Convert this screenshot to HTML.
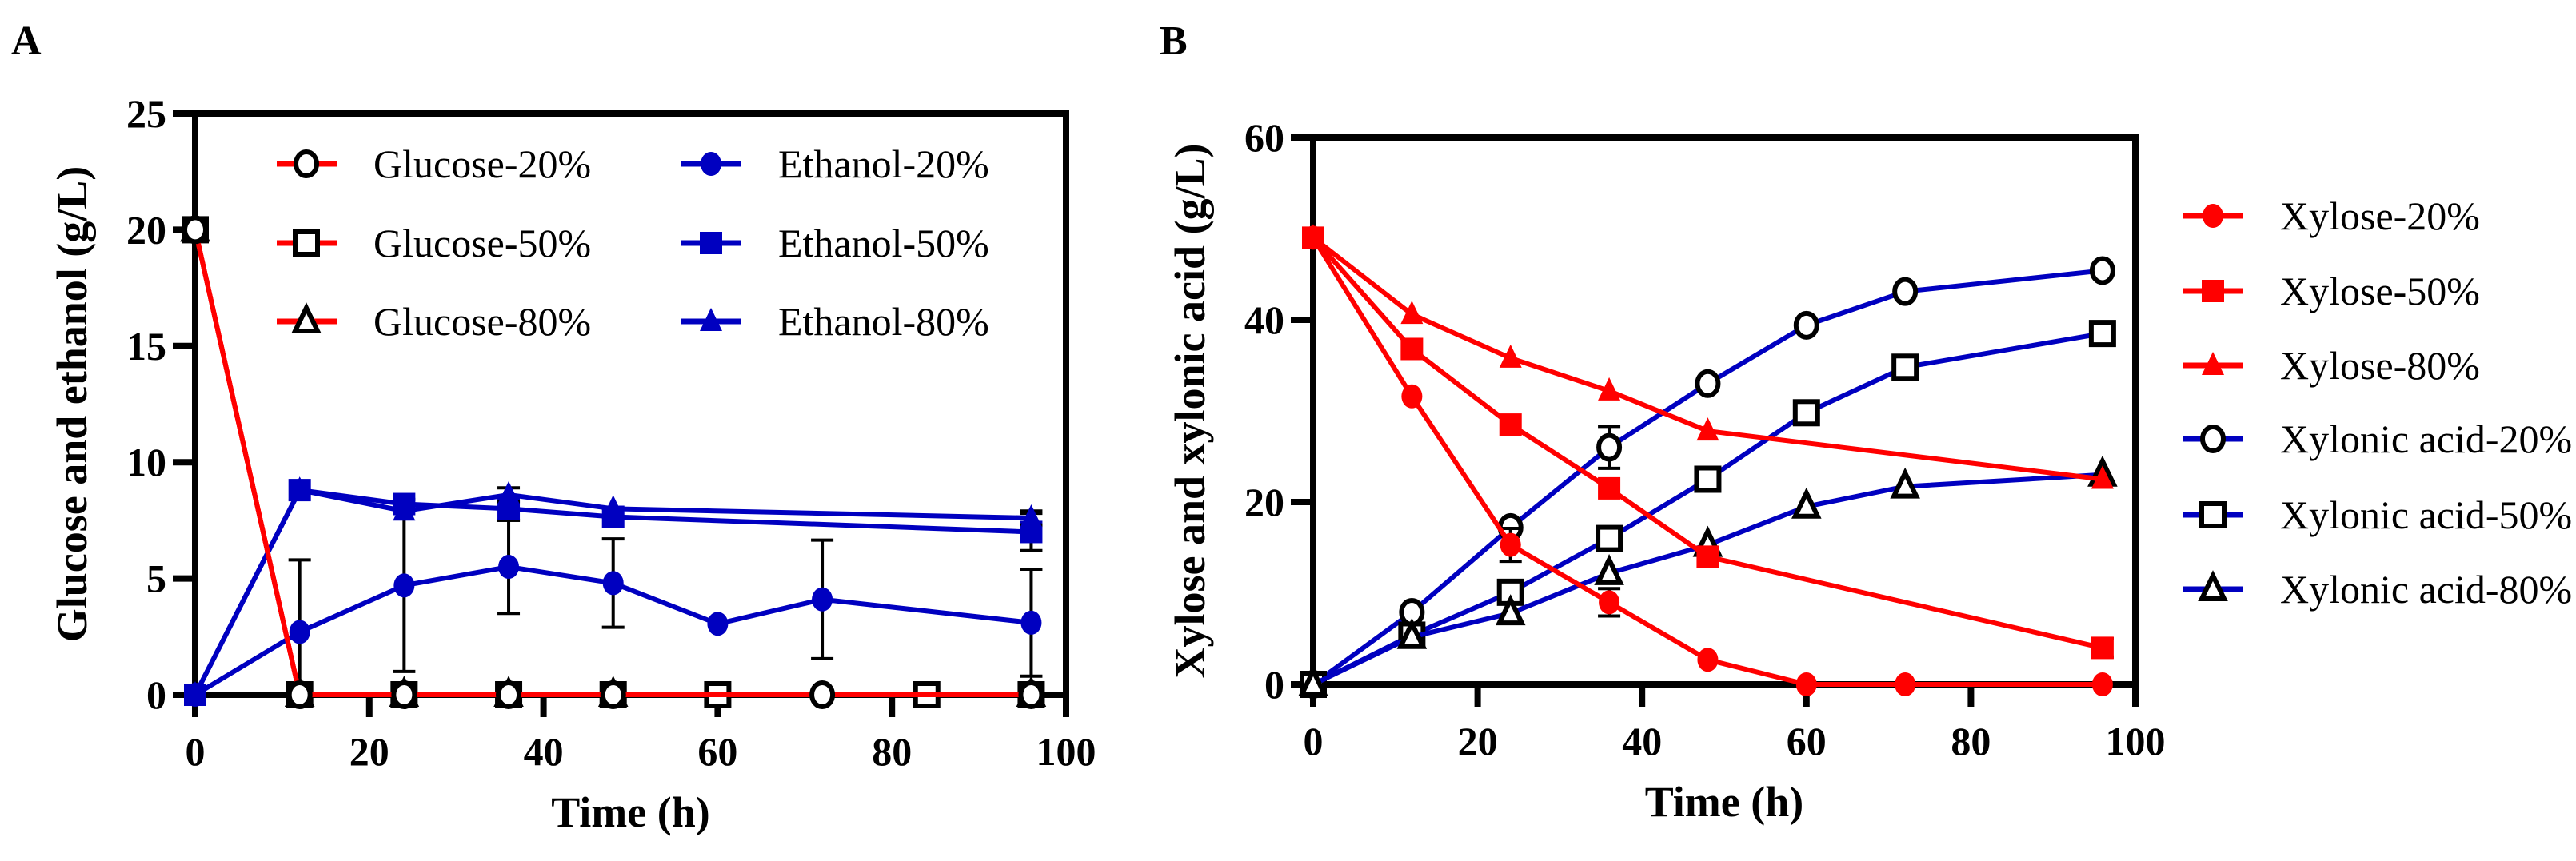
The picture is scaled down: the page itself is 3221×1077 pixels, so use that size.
<!DOCTYPE html>
<html><head><meta charset="utf-8">
<style>
html,body{margin:0;padding:0;background:#fff;}
svg{display:block;font-family:"Liberation Serif","Times New Roman",serif;}
svg text{font-family:"Liberation Serif","Times New Roman",serif;}
</style></head>
<body>
<svg id="fig" width="3221" height="1077" viewBox="0 0 3221 1077" xmlns="http://www.w3.org/2000/svg" font-family="Liberation Serif, serif">
<text x="14" y="68" font-size="52" font-weight="bold" font-family="Liberation Serif, serif">A</text>
<text x="1450" y="68" font-size="52" font-weight="bold" font-family="Liberation Serif, serif">B</text>
</svg>
<script>
// ---- Panel A data ----
const gluc20X = [0,12,24,36,48,72,96];
const gluc20Y = [20,0,0,0,0,0,0];
const gluc50X = [0,12,24,36,48,60,84,96];
const gluc50Y = [20,0,0,0,0,0,0,0];
const gluc80X = [0,12,24,36,48,96];
const gluc80Y = [20,0,0,0,0,0];
const eth20X = [0,12,24,36,48,60,72,96];
const eth20Y = [0,2.7,4.7,5.5,4.8,3.05,4.1,3.1];
const eth20Err = [0,3.1,3.7,2.0,1.9,0,2.55,2.3];
const eth50X = [0,12,24,36,48,96];
const eth50Y = [0,8.8,8.2,8.0,7.65,7.0];
const eth50Err = [0,0,0,0.5,0,0.8];
const eth80X = [0,12,24,36,48,96];
const eth80Y = [0,8.8,7.9,8.6,8.0,7.6];
const eth80Err = [0,0,0,0.3,0,0.3];
const ticksAx = [0,20,40,60,80,100];
const ticksAy = [0,5,10,15,20,25];
// ---- Panel B data ----
const xyl20X = [0,12,24,36,48,60,72,96];
const xyl20Y = [49,31.6,15.3,9.0,2.7,0,0,0];
const xyl20Err = [0,0,1.8,1.5,0,0,0,0];
const xyl50X = [0,12,24,36,48,96];
const xyl50Y = [49,36.8,28.5,21.5,14.0,4.0];
const xyl50Err = [0,0,0,0,0,1.0];
const xyl80X = [0,12,24,36,48,96];
const xyl80Y = [49,40.6,35.8,32.2,27.8,22.5];
const xa20X = [0,12,24,36,48,60,72,96];
const xa20Y = [0,7.9,17.2,26.0,33.0,39.4,43.1,45.4];
const xa20Err = [0,0,0,2.3,0,0,0,0];
const xa50X = [0,12,24,36,48,60,72,96];
const xa50Y = [0,5.4,10.1,16.0,22.5,29.8,34.8,38.5];
const xa80X = [0,12,24,36,48,60,72,96];
const xa80Y = [0,5.2,7.8,12.2,15.3,19.5,21.7,23.0];
const ticksBx = [0,20,40,60,80,100];
const ticksBy = [0,20,40,60];

const NS='http://www.w3.org/2000/svg';
const svg=document.getElementById('fig');
const RED='#ff0000', BLUE='#0000c0';
const FONT='Liberation Serif, serif';
function mk(tag,attrs,parent){const e=document.createElementNS(NS,tag);for(const k in attrs)e.setAttribute(k,attrs[k]);if(tag==='text')e.setAttribute('font-family',FONT);(parent||svg).appendChild(e);return e;}

function marker(g,shape,cx,cy,fill,stroke){
  let e;
  if(shape==='circle'){e=mk('ellipse',{cx:cx,cy:cy,rx:13,ry:15,fill:fill,stroke:stroke,'stroke-width':stroke==='none'?0:6},g);}
  else if(shape==='square'){e=mk('rect',{x:cx-14,y:cy-14,width:28,height:28,fill:fill,stroke:stroke,'stroke-width':stroke==='none'?0:6},g);}
  else {e=mk('polygon',{points:`${cx},${cy-17} ${cx+14},${cy+12} ${cx-14},${cy+12}`,fill:fill,stroke:stroke,'stroke-width':stroke==='none'?0:6},g);}
  return e;
}

function axes(p,tx,ty,yMax,title,name){
  const g=mk('g',{});
  
  
  const sx=v=>p.x0+(v/100)*(p.x1-p.x0);
  const sy=v=>p.y0-(v/yMax)*(p.y0-p.y1);
  const frame=mk('path',{d:`M${p.x0},${p.y0} V${p.y1} H${p.x1} V${p.y0} Z`,fill:'none',stroke:'#000','stroke-width':8},g);
  
  
  tx.forEach(v=>{
    const t=mk('line',{x1:sx(v),x2:sx(v),y1:p.y0,y2:p.y0+28,stroke:'#000','stroke-width':8},g);
    
    
    const l=mk('text',{x:sx(v),y:p.y0+88,'font-size':50,'font-weight':'bold','text-anchor':'middle'},g);
    l.textContent=v;
    
    
  });
  ty.forEach(v=>{
    const t=mk('line',{x1:p.x0-28,x2:p.x0,y1:sy(v),y2:sy(v),stroke:'#000','stroke-width':8},g);
    
    
    const l=mk('text',{x:p.x0-36,y:sy(v)+17,'font-size':50,'font-weight':'bold','text-anchor':'end'},g);
    l.textContent=v;
    
    
  });
  const xt=mk('text',{x:(p.x0+p.x1)/2,y:p.y0+165,'font-size':54,'font-weight':'bold','text-anchor':'middle'},g);
  xt.textContent='Time (h)';
  
  
  const yc=(p.y0+p.y1)/2;
  const yt=mk('text',{x:p.tx,y:yc,'font-size':54,'font-weight':'bold','text-anchor':'middle',transform:`rotate(-90 ${p.tx} ${yc})`},g);
  yt.textContent=title;
  
  
  return {sx,sy};
}

function series(ax,xs,ys,errs,color,shape,fill,stroke,name){
  const g=mk('g',{});
  
  
  if(errs){xs.forEach((x,i)=>{if(!errs[i])return;
    const cx=ax.sx(x), top=ax.sy(ys[i]+errs[i]), bot=ax.sy(Math.max(0,ys[i]-errs[i]));
    const eb=mk('path',{d:`M${cx},${top} V${bot} M${cx-14},${top} H${cx+14}`+(ys[i]-errs[i]>0?` M${cx-14},${bot} H${cx+14}`:''),stroke:'#000','stroke-width':4,fill:'none'},g);
    
    
  });}
  const pl=mk('polyline',{points:xs.map((x,i)=>ax.sx(x)+','+ax.sy(ys[i])).join(' '),fill:'none',stroke:color,'stroke-width':6,'stroke-linejoin':'round'},g);
  
  
  xs.forEach((x,i)=>{
    const m=marker(g,shape,ax.sx(x),ax.sy(ys[i]),fill,stroke);
    
    
  });
}

function legendEntry(x,y,color,shape,fill,stroke,label){
  const g=mk('g',{});
  
  
  mk('line',{x1:x,x2:x+75,y1:y,y2:y,stroke:color,'stroke-width':7},g);
  marker(g,shape,x+37,y,fill,stroke);
  const t=mk('text',{x:x+121,y:y+17,'font-size':50},g);
  t.textContent=label;
}

// Panel A
const pA={x0:244,x1:1333,y0:869,y1:142,tx:108};
const axA=axes(pA,ticksAx,ticksAy,25,'Glucose and ethanol (g/L)','panel-a');
series(axA,eth20X,eth20Y,eth20Err,BLUE,'circle',BLUE,'none','ethanol-20-series');
series(axA,eth50X,eth50Y,eth50Err,BLUE,'square',BLUE,'none','ethanol-50-series');
series(axA,eth80X,eth80Y,eth80Err,BLUE,'triangle',BLUE,'none','ethanol-80-series');
series(axA,gluc80X,gluc80Y,null,RED,'triangle','#fff','#000','glucose-80-series');
series(axA,gluc50X,gluc50Y,null,RED,'square','#fff','#000','glucose-50-series');
series(axA,gluc20X,gluc20Y,null,RED,'circle','#fff','#000','glucose-20-series');
legendEntry(346,205,RED,'circle','#fff','#000','Glucose-20%');
legendEntry(346,304,RED,'square','#fff','#000','Glucose-50%');
legendEntry(346,402,RED,'triangle','#fff','#000','Glucose-80%');
legendEntry(852,205,BLUE,'circle',BLUE,'none','Ethanol-20%');
legendEntry(852,304,BLUE,'square',BLUE,'none','Ethanol-50%');
legendEntry(852,402,BLUE,'triangle',BLUE,'none','Ethanol-80%');

// Panel B
const pB={x0:1642,x1:2670,y0:856,y1:172,tx:1506};
const axB=axes(pB,ticksBx,ticksBy,60,'Xylose and xylonic acid (g/L)','panel-b');
series(axB,xa20X,xa20Y,xa20Err,BLUE,'circle','#fff','#000','xylonic-20-series');
series(axB,xa50X,xa50Y,null,BLUE,'square','#fff','#000','xylonic-50-series');
series(axB,xa80X,xa80Y,null,BLUE,'triangle','#fff','#000','xylonic-80-series');
series(axB,xyl20X,xyl20Y,xyl20Err,RED,'circle',RED,'none','xylose-20-series');
series(axB,xyl50X,xyl50Y,xyl50Err,RED,'square',RED,'none','xylose-50-series');
series(axB,xyl80X,xyl80Y,null,RED,'triangle',RED,'none','xylose-80-series');
legendEntry(2730,270,RED,'circle',RED,'none','Xylose-20%');
legendEntry(2730,364,RED,'square',RED,'none','Xylose-50%');
legendEntry(2730,457,RED,'triangle',RED,'none','Xylose-80%');
legendEntry(2730,549,BLUE,'circle','#fff','#000','Xylonic acid-20%');
legendEntry(2730,644,BLUE,'square','#fff','#000','Xylonic acid-50%');
legendEntry(2730,737,BLUE,'triangle','#fff','#000','Xylonic acid-80%');
</script>
</body></html>
